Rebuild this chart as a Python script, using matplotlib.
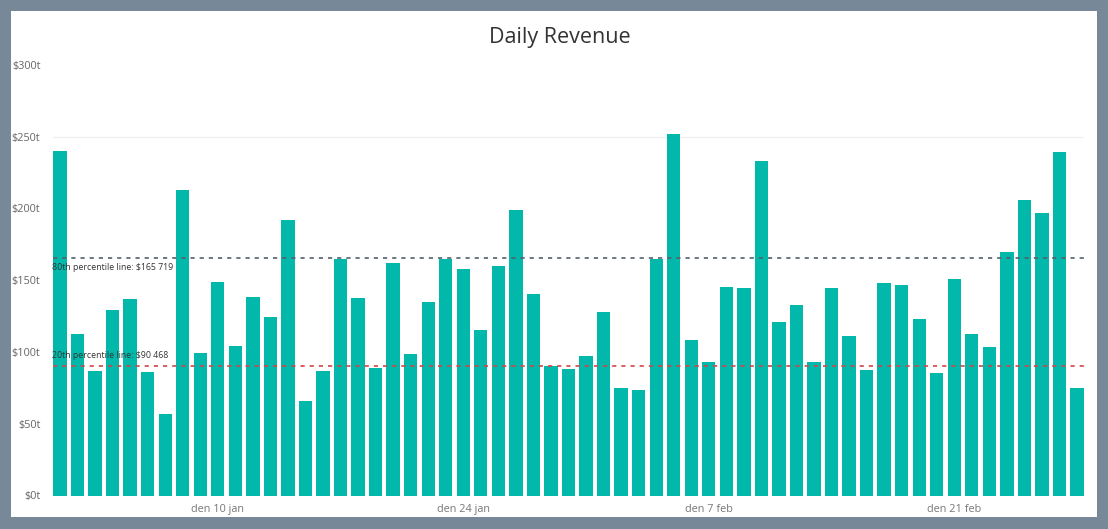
import numpy as np
import pandas as pd
import matplotlib
matplotlib.use("Agg")
import matplotlib.pyplot as plt
from matplotlib.patches import Rectangle

plt.rcParams['font.family'] = ['Open Sans', 'DejaVu Sans']

# Daily revenue, in thousands of dollars
dates = pd.date_range("2021-01-01", "2021-02-28", freq="D")
revenue = [
    240, 112.5, 87, 129, 137, 86, 57, 213, 99, 149,
    104, 138, 124, 192, 66, 87, 165, 137.5, 89, 162,
    98.5, 135, 165, 158, 115, 160, 199, 140, 90, 88,
    97, 128, 75, 73.5, 165, 252, 108, 93, 145, 144.5,
    233, 121, 133, 93, 144.5, 111, 87.5, 148, 146.5, 123,
    85, 151, 112.5, 103.5, 169.5, 206, 197, 239, 75,
]
p80_value = 165.719
p20_value = 90.468
y_ticks = [0, 50, 100, 150, 200, 250, 300]
x_tick_labels = ["den 10 jan", "den 24 jan", "den 7 feb", "den 21 feb"]
x_tick_dates = pd.to_datetime(["2021-01-10", "2021-01-24", "2021-02-07", "2021-02-21"])
title = "Daily Revenue"

W, H = 1108, 529
fig = plt.figure(figsize=(W / 100, H / 100), dpi=100)
fig.patch.set_facecolor("#778899")

# white report canvas
fig.patches.append(Rectangle((11 / W, 1 - 517 / H), (1097 - 11) / W, (517 - 11) / H,
                             transform=fig.transFigure, facecolor="white",
                             edgecolor="none", zorder=-5))

left, right = 53, 1084
bottom_px, top_px = 495.5, 495.5 - 300 * 1.436
ax = fig.add_axes([left / W, 1 - bottom_px / H, (right - left) / W, (bottom_px - top_px) / H])
ax.set_facecolor("none")

x = np.arange(len(dates))
ax.bar(x, revenue, width=0.76, color="#01B8AA", zorder=2)

ax.set_xlim(-0.4, len(dates) - 0.6)
ax.set_ylim(0, 300)

for s in ax.spines.values():
    s.set_visible(False)

ax.set_yticks(y_ticks)
ax.set_yticklabels([f"${v}t" for v in y_ticks], color="#666666", fontsize=7.8)
ax.tick_params(axis="y", length=0, pad=9)
ax.axhline(250, color="#f0f0f0", lw=1.0, zorder=1)

tick_pos = [int((d - dates[0]).days) for d in x_tick_dates]
ax.set_xticks(tick_pos)
ax.set_xticklabels(x_tick_labels, color="#777777", fontsize=7.8)
ax.tick_params(axis="x", length=0, pad=6)

# percentile reference lines
ax.axhline(p80_value, color="#55606b", lw=1.2, ls=(0, (2.5, 3)), zorder=3)
ax.axhline(p20_value, color="#d0454c", lw=1.2, ls=(0, (2.5, 3)), zorder=3)

def fmt(v):
    return f"${int(round(v * 1000)):,}".replace(",", " ")

ax.text(-0.45, p80_value - 4, f"80th percentile line: {fmt(p80_value)}",
        fontsize=6.3, color="#333333", va="top", ha="left", zorder=4)
ax.text(-0.45, p20_value + 4, f"20th percentile line: {fmt(p20_value)}",
        fontsize=6.3, color="#333333", va="bottom", ha="left", zorder=4)

fig.text(560 / W, 1 - 37 / H, title, fontsize=15.5, color="#333333",
         ha="center", va="center")

fig.savefig("out.png", dpi=100, facecolor=fig.get_facecolor())
